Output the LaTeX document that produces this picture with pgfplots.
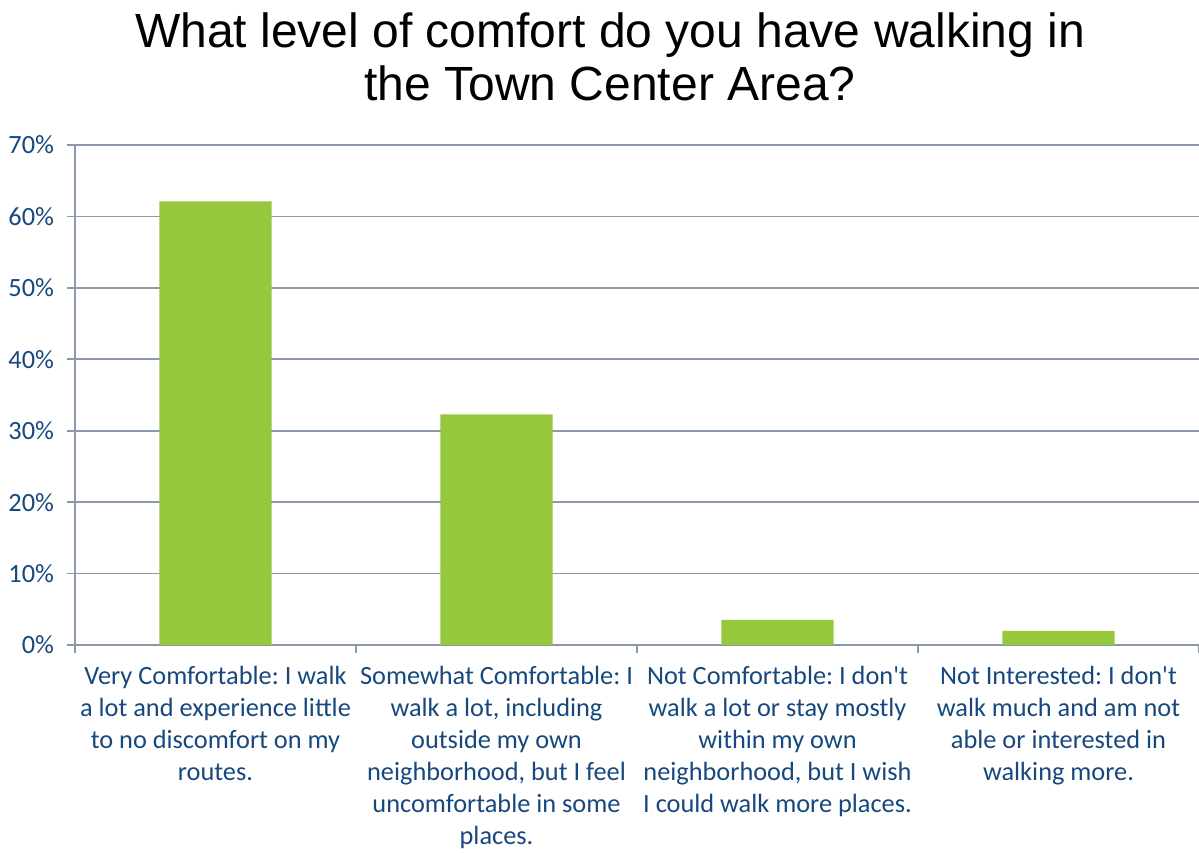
\documentclass[border=0pt]{standalone}
\usepackage{pgfplots}
\pgfplotsset{compat=1.18}
\usepackage{fontspec}
\setmainfont{Carlito}
\newfontfamily\lblfont{Carlito}
\newfontfamily\titlefont{Liberation Sans}
\definecolor{barg}{RGB}{150,200,62}
\definecolor{gridc}{RGB}{140,152,172}
\definecolor{lbl}{RGB}{23,72,125}
\frenchspacing
\begin{document}
\begin{tikzpicture}
\begin{axis}[
  name=ax,
  scale only axis,
  width=674.4pt, height=300pt,
  xmin=-0.5, xmax=3.5,
  ymin=0, ymax=70,
  axis x line=bottom, axis y line=left,
  axis line style={gridc, line width=1pt, -},
  ymajorgrids, grid style={gridc, line width=1pt},
  ytick={0,10,20,30,40,50,60,70},
  yticklabels={0\%,10\%,20\%,30\%,40\%,50\%,60\%,70\%},
  xtick={0,1,2,3},
  minor xtick={-0.5,0.5,1.5,2.5,3.5},
  tick align=outside,
  major x tick style={draw=none},
  minor x tick style={gridc, line width=1pt},
  y tick style={gridc, line width=1pt},
  minor tick length=4.8pt,
  major tick length=4.8pt,
  tick label style={font=\lblfont\frenchspacing\fontsize{15.8}{19.2}\selectfont, text=lbl},
  yticklabel style={xshift=-4.3pt},
  xticklabel style={align=center, yshift=-4.5pt},
  xticklabels={
    {Very Comfortable: I walk\\a lot and experience little\\to no discomfort on my\\routes.},
    {Somewhat Comfortable: I\\walk a lot, including\\outside my own\\neighborhood, but I feel\\uncomfortable in some\\places.},
    {Not Comfortable: I don't\\walk a lot or stay mostly\\within my own\\neighborhood, but I wish\\I could walk more places.},
    {Not Interested: I don't\\walk much and am not\\able or interested in\\walking more.}},
  clip=false,
]
\addplot[ybar, bar width=0.4, fill=barg, draw=none] coordinates {(0,62.1) (1,32.3) (2,3.5) (3,1.96)};
\node[font=\titlefont\fontsize{28.8}{32}\selectfont, align=center, anchor=south, inner sep=0pt]
  at ([yshift=26pt]rel axis cs:0.476,1) {What level of comfort do you have walking in\\the Town Center Area?};
\end{axis}
\pgfresetboundingbox
\path[use as bounding box] ([shift={(-45pt,-125.4pt)}]ax.south west) rectangle ([shift={(0pt,87pt)}]ax.north east);
\end{tikzpicture}
\end{document}
